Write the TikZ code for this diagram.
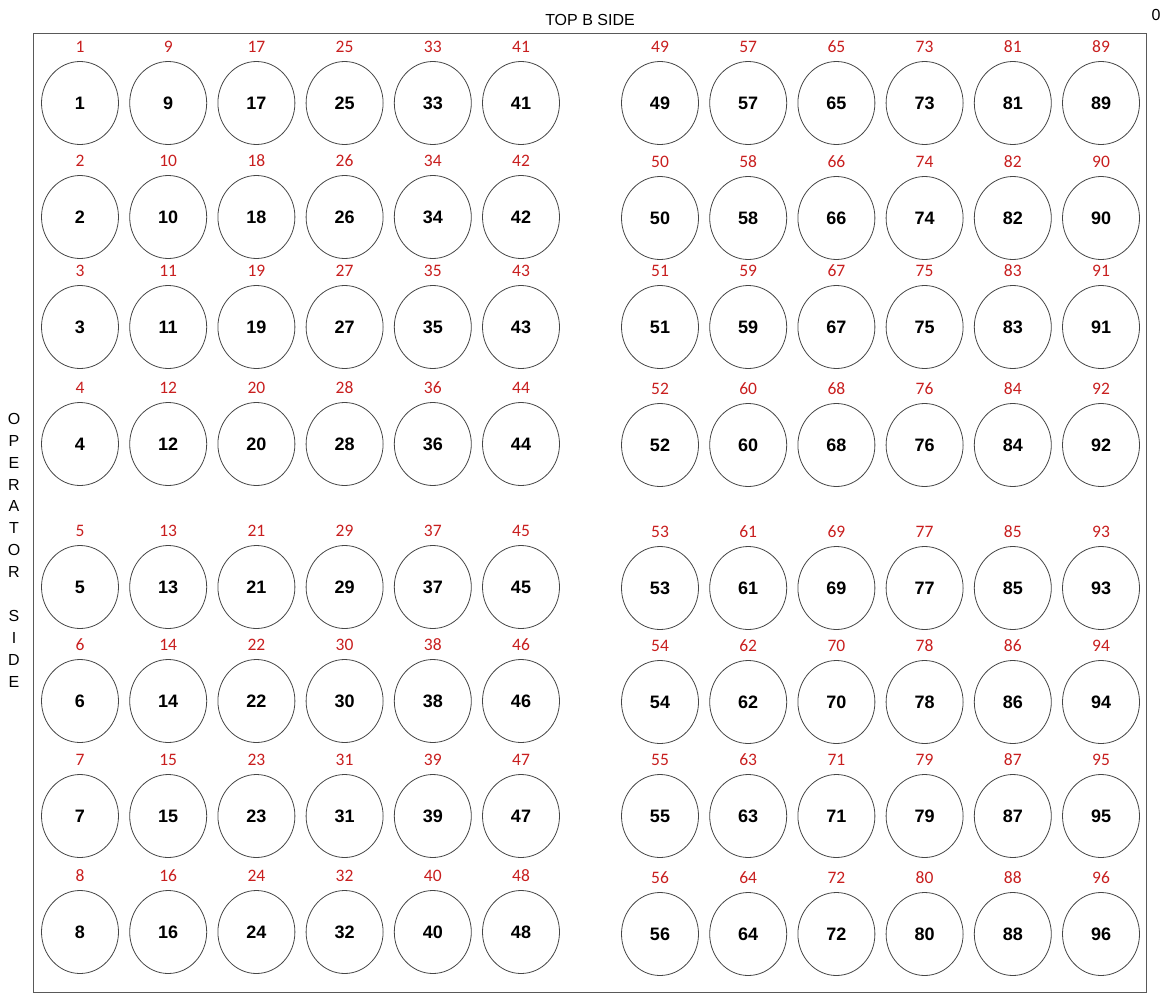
\documentclass[tikz,border=0pt]{standalone}
\usepackage{fontspec}
\setmainfont{Liberation Sans}
\newfontfamily\lblfont{Carlito}
\usetikzlibrary{shapes.geometric}
\definecolor{lblred}{RGB}{200,30,30}
\definecolor{rimgray}{RGB}{70,70,70}
\begin{document}
\begin{tikzpicture}[x=1pt,y=-1pt,
  well/.style={draw=rimgray, line width=0.8pt, ellipse, minimum width=77pt, minimum height=83pt, inner sep=0pt,
    font=\fontsize{18}{18}\selectfont\bfseries},
  wlabel/.style={text=lblred, inner sep=0pt, font=\lblfont\fontsize{17.5}{17.5}\selectfont},
  side/.style={inner sep=0pt, font=\fontsize{16}{16}\selectfont}]
\useasboundingbox (0,0) rectangle (1170,993);
\node[draw=rimgray!90, line width=1pt, minimum width=1113pt, minimum height=959pt, inner sep=0pt, anchor=north west] (frame) at (33,33) {};
\node[side] (top) at (590,20) {TOP B SIDE};
\node[side] (zero) at (1156,15) {0};
\node[side, align=center, font=\fontsize{16}{21.9}\selectfont, anchor=north] (op) at (14,413)
  {O\\P\\E\\R\\A\\T\\O\\R\\[21.9pt]S\\I\\D\\E};
\foreach \i in {0,...,11} {
  \foreach \j/\yl/\yr in {0/103/103, 1/217/218, 2/327/327, 3/444/445, 4/587/588, 5/701/702, 6/816/816, 7/932/934} {
    \pgfmathsetmacro\xx{\i<6 ? 80+88.2*\i : 660+88.2*(\i-6)}
    \pgfmathsetmacro\yy{\i<6 ? \yl : \yr}
    \pgfmathtruncatemacro\n{\i*8+\j+1}
    \node[well] (c\n) at (\xx,\yy) {\n};
    \node[wlabel] (l\n) at (\xx,\yy-56) {\n};
  }
}
\end{tikzpicture}
\end{document}
